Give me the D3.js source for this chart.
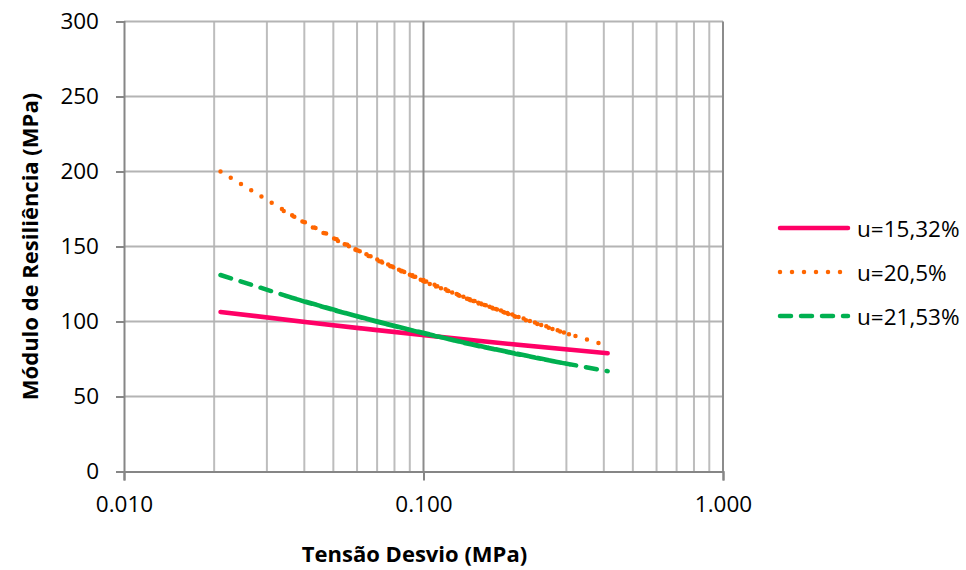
<!DOCTYPE html>
<html>
<head>
<meta charset="utf-8">
<script src="https://cdn.jsdelivr.net/npm/d3@7"></script>
<style>
  html, body { margin: 0; padding: 0; background: #fff; }
  svg { display: block; font-family: "Open Sans", sans-serif; }
</style>
</head>
<body>
<svg id="chart" width="966" height="570"></svg>
<script>
// Deviator stress sequence of the resilient modulus test (MPa), in test order
const tensaoDesvio = [0.021, 0.041, 0.062, 0.034, 0.069, 0.103, 0.051, 0.103, 0.154,
                      0.069, 0.137, 0.206, 0.103, 0.206, 0.309, 0.137, 0.275, 0.412];

// Resilient modulus (MPa) for each moisture content, same order as above
const mr1532 = [106.4, 99.5, 95.4, 101.3, 94.4, 90.6, 97.3, 90.6, 87.0,
                94.4, 88.0, 84.5, 90.6, 84.5, 81.1, 88.0, 82.1, 78.8];
const mr2050 = [200.0, 164.5, 145.8, 173.8, 141.3, 125.7, 154.3, 125.7, 111.8,
                141.3, 115.7, 102.7, 125.7, 102.7, 91.2, 115.7, 94.4, 83.9];
const mr2153 = [131.0, 112.6, 102.6, 117.5, 100.1, 91.5, 107.2, 91.5, 83.5,
                100.1, 85.7, 78.2, 91.5, 78.2, 71.3, 85.7, 73.3, 66.9];

const seriesNames = ["u=15,32%", "u=20,5%", "u=21,53%"];
const seriesValues = [mr1532, mr2050, mr2153];

const xTickValues = [0.01, 0.1, 1];
const xTickLabels = ["0.010", "0.100", "1.000"];
const yTickValues = [0, 50, 100, 150, 200, 250, 300];

const styles = [
  { color: "#FF0066", dash: null },
  { color: "#FF6600", dash: "0 12" },
  { color: "#00B050", dash: "11 10" }
];

const svg = d3.select("#chart");
const plot = { left: 124, right: 723, top: 21.5, bottom: 471.5 };
const tickFont = "22.5px";
const titleFont = "22px";

const x = d3.scaleLog().domain([0.01, 1]).range([plot.left, plot.right]);
const y = d3.scaleLinear().domain([0, 300]).range([plot.bottom, plot.top]);

// minor vertical grid (2..9 of each decade)
const minorX = [];
for (let d = 0.01; d < 1; d *= 10) {
  for (let k = 2; k <= 9; k++) minorX.push(+(d * k).toPrecision(3));
}
svg.append("g").selectAll("line").data(minorX).join("line")
  .attr("x1", d => x(d)).attr("x2", d => x(d))
  .attr("y1", plot.top).attr("y2", plot.bottom)
  .attr("stroke", "#BDBDBD").attr("stroke-width", 2);

// horizontal grid
svg.append("g").selectAll("line").data(yTickValues.filter(v => v > 0)).join("line")
  .attr("x1", plot.left).attr("x2", plot.right)
  .attr("y1", d => y(d)).attr("y2", d => y(d))
  .attr("stroke", "#B4B4B4").attr("stroke-width", 2);

// major vertical grid
svg.append("g").selectAll("line").data(xTickValues.filter(v => v > 0.01)).join("line")
  .attr("x1", d => x(d)).attr("x2", d => x(d))
  .attr("y1", plot.top).attr("y2", plot.bottom)
  .attr("stroke", "#8C8C8C").attr("stroke-width", 2);

// axes
const yAxis = d3.axisLeft(y).tickValues(yTickValues).tickSize(8).tickPadding(17).tickFormat(d3.format("d"));
const gy = svg.append("g").attr("transform", `translate(${plot.left},0)`).call(yAxis);
gy.select(".domain").attr("stroke", "#868686").attr("stroke-width", 2);
gy.selectAll(".tick line").attr("stroke", "#868686").attr("stroke-width", 2);
gy.selectAll(".tick text").attr("fill", "#000").style("font-size", tickFont)
  .style("font-family", "'Open Sans', sans-serif");

const xAxis = d3.axisBottom(x).tickValues(xTickValues).tickSize(9).tickPadding(16)
  .tickFormat((d, i) => xTickLabels[i]);
const gx = svg.append("g").attr("transform", `translate(0,${plot.bottom})`).call(xAxis);
gx.select(".domain").attr("stroke", "#868686").attr("stroke-width", 2);
gx.selectAll(".tick line").attr("stroke", "#868686").attr("stroke-width", 2);
gx.selectAll(".tick text").attr("fill", "#000").style("font-size", tickFont)
  .style("font-family", "'Open Sans', sans-serif");

// series lines
const line = d3.line().x(d => x(d[0])).y(d => y(d[1]));
seriesValues.forEach((vals, i) => {
  const pts = tensaoDesvio.map((t, j) => [t, vals[j]]);
  svg.append("path").datum(pts)
    .attr("d", line)
    .attr("fill", "none")
    .attr("stroke", styles[i].color)
    .attr("stroke-width", 4.5)
    .attr("stroke-linecap", "round")
    .attr("stroke-linejoin", "round")
    .attr("stroke-dasharray", styles[i].dash);
});

// axis titles
svg.append("text")
  .attr("x", 414.5).attr("y", 562)
  .attr("text-anchor", "middle")
  .style("font-size", titleFont).style("font-weight", "bold")
  .text("Tensão Desvio (MPa)");

svg.append("text")
  .attr("transform", `translate(38,${(plot.top + plot.bottom) / 2}) rotate(-90)`)
  .attr("text-anchor", "middle")
  .style("font-size", titleFont).style("font-weight", "bold")
  .text("Módulo de Resiliência (MPa)");

// legend
const legendRows = [228, 272, 316];
const legend = svg.append("g");
seriesNames.forEach((name, i) => {
  legend.append("line")
    .attr("x1", 780).attr("x2", 848)
    .attr("y1", legendRows[i]).attr("y2", legendRows[i])
    .attr("stroke", styles[i].color).attr("stroke-width", 4.5)
    .attr("stroke-linecap", "round")
    .attr("stroke-dasharray", styles[i].dash);
  legend.append("text")
    .attr("x", 857).attr("y", legendRows[i] + 8.5)
    .style("font-size", tickFont)
    .text(name);
});
</script>
</body>
</html>
